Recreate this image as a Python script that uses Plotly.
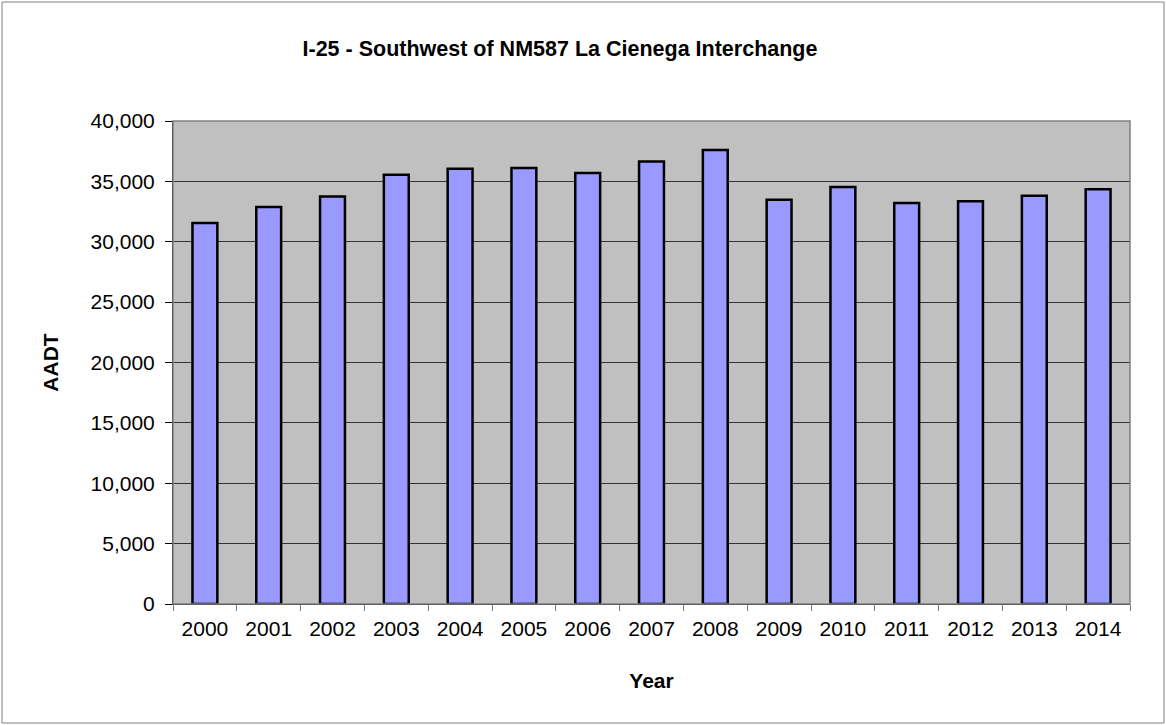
import plotly.graph_objects as go

years = ["2000", "2001", "2002", "2003", "2004", "2005", "2006", "2007",
         "2008", "2009", "2010", "2011", "2012", "2013", "2014"]
aadt = [31550, 32870, 33740, 35540, 36040, 36100, 35690, 36650,
        37590, 33470, 34540, 33200, 33360, 33800, 34350]
y_ticks = [0, 5000, 10000, 15000, 20000, 25000, 30000, 35000, 40000]

W, H = 1166, 725
L, R, T, B = 173, 1130, 121, 604

fig = go.Figure()
fig.add_trace(go.Bar(
    x=years, y=aadt,
    marker=dict(color="#9999FF", line=dict(color="#000000", width=2.5)),
    hoverinfo="x+y",
))

pw, ph = R - L, B - T
def px(x):
    return (x - L) / pw
def py(y):
    return (B - y) / ph

fig.update_layout(
    width=W, height=H,
    margin=dict(l=L, r=W - R, t=T, b=H - B, autoexpand=False),
    paper_bgcolor="white",
    plot_bgcolor="#C0C0C0",
    bargap=0.61,
    showlegend=False,
    font=dict(family="Liberation Sans, Arial, sans-serif", color="#000000", size=21),
    title=dict(text="<b>I-25 - Southwest of NM587 La Cienega Interchange</b>",
               x=560 / W, xref="container", xanchor="center",
               y=1 - 48 / H, yref="container", yanchor="middle",
               font=dict(size=21.5)),
    xaxis=dict(
        type="category",
        showgrid=False,
        ticks="outside", ticklen=6, tickcolor="#808080", tickwidth=1,
        tickson="boundaries",
        ticklabelstandoff=6,
        showline=True, linecolor="#000000", linewidth=1,
        title=dict(text="<b>Year</b>", font=dict(size=21), standoff=34),
        tickfont=dict(size=21),
    ),
    yaxis=dict(
        range=[0, 40000],
        tickvals=y_ticks,
        tickformat=",",
        showgrid=True, gridcolor="#333333", gridwidth=1,
        zeroline=False,
        ticks="outside", ticklen=7, tickcolor="#000000",
        ticklabelstandoff=6,
        showline=True, linecolor="#000000", linewidth=1,
        title=dict(text="<b>AADT</b>", font=dict(size=21), standoff=26),
        tickfont=dict(size=21),
    ),
    shapes=[
        dict(type="rect", xref="paper", yref="paper", x0=0, x1=1, y0=0, y1=1,
             line=dict(color="#808080", width=1.5), layer="above"),
        dict(type="rect", xref="paper", yref="paper",
             x0=px(2), x1=px(W - 2), y0=py(H - 2), y1=py(2),
             line=dict(color="#808080", width=1)),
    ],
)

fig.write_html("out.html", config={"displayModeBar": False},
               post_script="document.body.style.margin='0px';")
